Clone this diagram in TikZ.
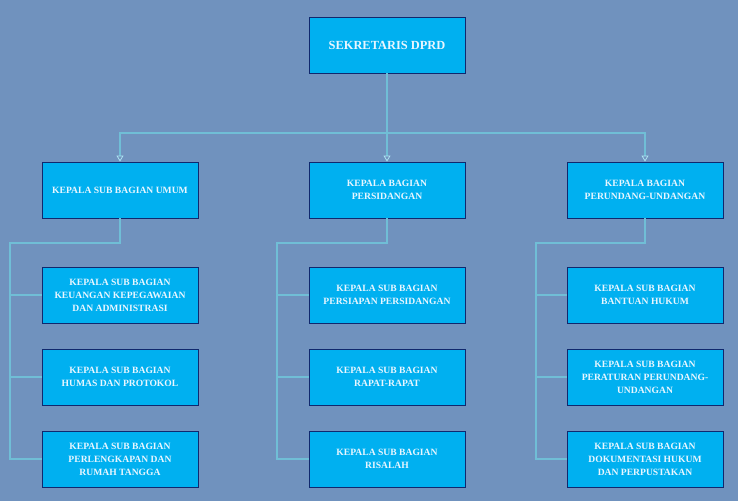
\documentclass[tikz,border=0pt]{standalone}
\usepackage{fontspec}
\setmainfont{Liberation Serif}
\usetikzlibrary{arrows.meta,positioning}
\definecolor{pagebg}{RGB}{112,146,190}
\definecolor{boxfill}{RGB}{0,176,240}
\definecolor{boxline}{RGB}{16,40,110}
\definecolor{textlight}{RGB}{232,246,255}
\definecolor{linkclr}{RGB}{175,230,244}
\definecolor{linkcore}{RGB}{112,190,214}

\begin{document}
\begin{tikzpicture}[x=1pt,y=-1pt,
    every node/.style={font=\fontsize{9.6}{13}\selectfont\bfseries},
    unitbox/.style={draw=boxline,line width=0.9pt,fill=boxfill,text=textlight,
      minimum width=156pt,minimum height=56pt,align=center,inner sep=2pt},
    link/.style={draw=linkclr,line width=0.75pt,double=linkcore,double distance=1.2pt},
    tip/.style={-{Triangle[open,width=7pt,length=6pt]}}]
        \fill[pagebg] (0,0) rectangle (738,501);
        % top level
        \node[unitbox,font=\fontsize{12.4}{15}\selectfont\bfseries] (sekr) at (387,45) {SEKRETARIS DPRD};
        % second level
        \node[unitbox] (umum) at (120,190) {KEPALA SUB BAGIAN UMUM};
        \node[unitbox] (sidang) at (387,190) {KEPALA BAGIAN\\PERSIDANGAN};
        \node[unitbox] (uu) at (645,190) {KEPALA BAGIAN\\PERUNDANG-UNDANGAN};
        % third level
        \node[unitbox] (umum1) at (120,295) {KEPALA SUB BAGIAN\\KEUANGAN KEPEGAWAIAN\\DAN ADMINISTRASI};
        \node[unitbox] (umum2) at (120,377) {KEPALA SUB BAGIAN\\HUMAS DAN PROTOKOL};
        \node[unitbox] (umum3) at (120,459) {KEPALA SUB BAGIAN\\PERLENGKAPAN DAN\\RUMAH TANGGA};
        \node[unitbox] (sidang1) at (387,295) {KEPALA SUB BAGIAN\\PERSIAPAN PERSIDANGAN};
        \node[unitbox] (sidang2) at (387,377) {KEPALA SUB BAGIAN\\RAPAT-RAPAT};
        \node[unitbox] (sidang3) at (387,459) {KEPALA SUB BAGIAN\\RISALAH};
        \node[unitbox] (uu1) at (645,295) {KEPALA SUB BAGIAN\\BANTUAN HUKUM};
        \node[unitbox] (uu2) at (645,377) {KEPALA SUB BAGIAN\\PERATURAN PERUNDANG-\\UNDANGAN};
        \node[unitbox] (uu3) at (645,459) {KEPALA SUB BAGIAN\\DOKUMENTASI HUKUM\\DAN PERPUSTAKAN};
        % bus lines
        \coordinate (topbus) at (387,133);
        \coordinate (umumbus) at (10,243);
        \coordinate (sidangbus) at (277,243);
        \coordinate (uubus) at (536,243);
        \draw[link] (sekr.south) -- (topbus);
        \draw[link,tip] (topbus) -| (umum.north);
        \draw[link,tip] (topbus) -| (uu.north);
        \draw[link,tip] (topbus) -- (sidang.north);
        % left column
        \draw[link] (umum.south) |- (umumbus) -- (umumbus |- umum3) -- (umum3.west);
        \draw[link] (umumbus |- umum1) -- (umum1.west);
        \draw[link] (umumbus |- umum2) -- (umum2.west);
        % middle column
        \draw[link] (sidang.south) |- (sidangbus) -- (sidangbus |- sidang3) -- (sidang3.west);
        \draw[link] (sidangbus |- sidang1) -- (sidang1.west);
        \draw[link] (sidangbus |- sidang2) -- (sidang2.west);
        % right column
        \draw[link] (uu.south) |- (uubus) -- (uubus |- uu3) -- (uu3.west);
        \draw[link] (uubus |- uu1) -- (uu1.west);
        \draw[link] (uubus |- uu2) -- (uu2.west);
      \end{tikzpicture}
\end{document}
